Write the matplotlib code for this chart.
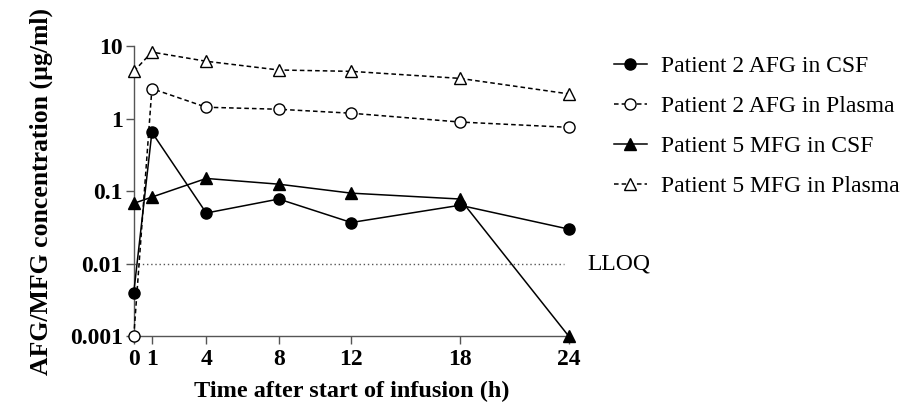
import matplotlib
matplotlib.use("Agg")
import matplotlib.pyplot as plt

plt.rcParams['font.family'] = ['Liberation Serif', 'DejaVu Serif']

hours = [0, 1, 4, 8, 12, 18, 24]
p2_csf = [0.004, 0.65, 0.05, 0.078, 0.037, 0.064, 0.030]
p2_plasma = [0.001, 2.6, 1.44, 1.35, 1.19, 0.9, 0.76]
p5_csf = [0.068, 0.083, 0.15, 0.125, 0.094, 0.078, 0.001]
p5_plasma = [4.5, 8.3, 6.2, 4.7, 4.5, 3.6, 2.2]
lloq = 0.01

fig = plt.figure(figsize=(9.1, 4.09), dpi=100)
ax = fig.add_axes([0.147, 0.178, 0.478, 0.709])

kw = dict(color='black', lw=1.1, markersize=8, clip_on=False, zorder=3)
ax.plot(hours, p2_csf, '-', marker='o', mfc='black', label='Patient 2 AFG in CSF', **kw)
ax.plot(hours, p2_plasma, '--', marker='o', mfc='white', dashes=(3, 2),
        label='Patient 2 AFG in Plasma', **kw)
ax.plot(hours, p5_csf, '-', marker='^', mfc='black', label='Patient 5 MFG in CSF', **kw)
ax.plot(hours, p5_plasma, '--', marker='^', mfc='white', dashes=(3, 2),
        label='Patient 5 MFG in Plasma', **kw)

ax.axhline(lloq, xmin=0, xmax=0.99, color='#555555', lw=1, ls=(0, (1, 2)), zorder=1)
ax.text(25, lloq, 'LLOQ', fontsize=17, va='center', ha='left')

ax.set_yscale('log')
ax.set_ylim(0.001, 10)
ax.set_xlim(0, 24)
ax.set_xticks(hours)
ax.set_yticks([0.001, 0.01, 0.1, 1, 10])
ax.set_yticklabels(['0.001', '0.01', '0.1', '1', '10'])
ax.minorticks_off()
for lab in ax.get_xticklabels() + ax.get_yticklabels():
    lab.set_fontweight('bold')
ax.tick_params(labelsize=17, length=6, width=1, color='#555555')
ax.tick_params(axis='x', pad=3)
ax.tick_params(axis='y', pad=2)

for s in ['top', 'right']:
    ax.spines[s].set_visible(False)
for s in ['left', 'bottom']:
    ax.spines[s].set_color('#555555')
    ax.spines[s].set_linewidth(1)

ax.set_xlabel('Time after start of infusion (h)', fontsize=17.5, fontweight='bold', labelpad=8)
ax.set_ylabel('AFG/MFG concentration (µg/ml)', fontsize=18.5, fontweight='bold', labelpad=12)

ax.legend(loc='upper left', bbox_to_anchor=(1.055, 1.04), frameon=False, fontsize=17,
          handlelength=1.4, handletextpad=0.6, labelspacing=0.78)

fig.savefig('out.png', dpi=100)
